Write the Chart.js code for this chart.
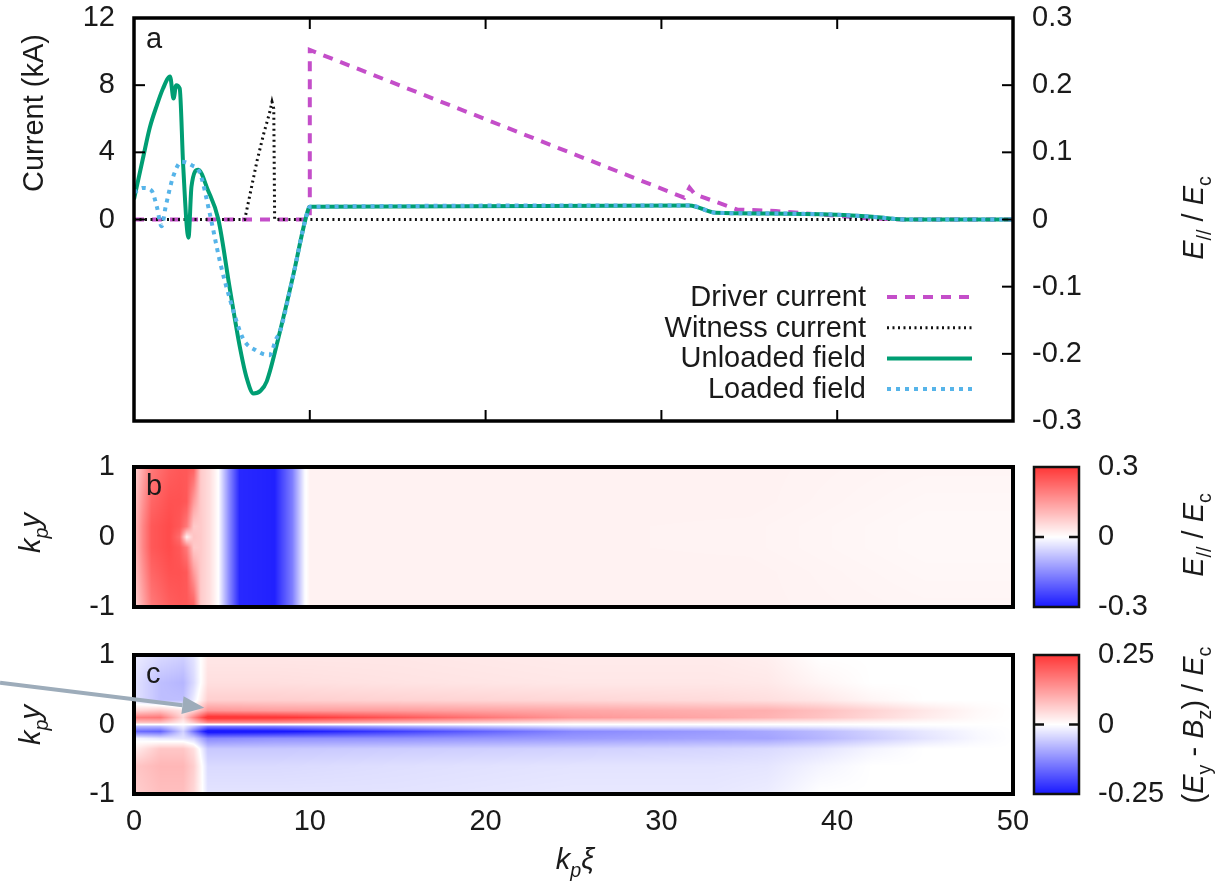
<!DOCTYPE html>
<html>
<head>
<meta charset="utf-8">
<script src="https://cdn.jsdelivr.net/npm/chart.js@4.4.1/dist/chart.umd.min.js"></script>
<style>
  html, body { margin: 0; padding: 0; background: #fff; }
  #wrap { position: relative; width: 1228px; height: 890px; }
  canvas { position: absolute; left: 0; }
</style>
</head>
<body>
<div id="wrap">
  <canvas id="panelA" width="1228" height="440" style="top:0px"></canvas>
  <canvas id="panelB" width="1228" height="200" style="top:440px"></canvas>
  <canvas id="panelC" width="1228" height="250" style="top:640px"></canvas>
</div>
<script>
// ---------- DATA ----------
const xTicks = [0, 10, 20, 30, 40, 50];
const currentTicks = [0, 4, 8, 12];
const fieldTicks = [-0.3, -0.2, -0.1, 0, 0.1, 0.2, 0.3];
const yTicks = [-1, 0, 1];
const cbTicksB = [-0.3, 0, 0.3];
const cbTicksC = [-0.25, 0, 0.25];

const seriesLabels = ["Driver current", "Witness current", "Unloaded field", "Loaded field"];

// beam currents, kA
const driverXi = [0, 10, 10, 31.3, 31.6, 31.9, 34.3, 36.5, 39, 42, 44, 50];
const driverKA = [0, 0, 10.1, 1.3, 1.9, 1.5, 0.6, 0.5, 0.3, 0.05, 0, 0];

const witnessXi = [0, 6.3, 6.6, 7.0, 7.4, 7.7, 7.85, 7.95, 8.0, 50];
const witnessKA = [0, 0, 1.5, 3.5, 5.2, 6.3, 7.0, 6.6, 0, 0];

// on-axis field, E|| / Ec
const unloadedXi = [0, 0.5, 0.9, 1.3, 1.65, 2.05, 2.25, 2.4, 2.6, 2.8, 3.1, 3.27, 3.65, 4.2, 4.8, 5.45, 6.0, 6.4, 6.8, 7.2, 7.55, 8.3, 9.05, 9.8, 10, 31.6, 33.1, 36, 40, 42, 44, 50];
const unloadedE = [0.03, 0.09, 0.137, 0.17, 0.195, 0.213, 0.18, 0.2, 0.195, 0.079, -0.027, 0.049, 0.074, 0.044, 0, -0.103, -0.187, -0.235, -0.259, -0.255, -0.241, -0.167, -0.084, 0.005, 0.019, 0.021, 0.01, 0.009, 0.007, 0.004, 0, 0];

const loadedXi = [0, 0.5, 1.0, 1.3, 1.57, 1.8, 2.23, 2.7, 3.27, 3.75, 4.3, 4.9, 5.45, 6.2, 6.95, 7.7, 8.1, 8.3, 9.05, 9.8, 10, 31.6, 33.1, 36, 40, 42, 44, 50];
const loadedE = [0.04, 0.047, 0.043, 0.019, -0.01, 0.019, 0.064, 0.086, 0.081, 0.069, 0.01, -0.064, -0.118, -0.177, -0.195, -0.202, -0.177, -0.167, -0.084, 0.005, 0.019, 0.021, 0.01, 0.009, 0.007, 0.004, 0, 0];

// panel b map, E|| / Ec (one row per bRows entry)
const bCols = [0, 0.5, 1, 2, 2.6, 3.0, 3.4, 3.8, 4.3, 4.8, 5.4, 6, 8, 9, 9.7, 10, 20, 35, 45, 50];
const bRows = [1, 0.5, 0.15, 0, -0.15, -0.5, -1];
const bField = [
  [0.06, 0.13, 0.2, 0.24, 0.25, 0.25, 0.24, 0.08, 0.05, 0.0, -0.15, -0.28, -0.29, -0.17, -0.01, 0.02, 0.02, 0.02, 0.015, 0.015],
  [0.08, 0.16, 0.23, 0.26, 0.26, 0.25, 0.15, 0.08, 0.05, 0.0, -0.15, -0.28, -0.29, -0.17, -0.01, 0.02, 0.02, 0.02, 0.012, 0.012],
  [0.09, 0.18, 0.25, 0.27, 0.25, 0.2, 0.08, 0.08, 0.05, 0.0, -0.15, -0.28, -0.29, -0.17, -0.01, 0.02, 0.02, 0.018, 0.01, 0.01],
  [0.09, 0.18, 0.25, 0.27, 0.22, 0.02, 0.09, 0.08, 0.05, 0.0, -0.15, -0.28, -0.29, -0.17, -0.01, 0.02, 0.02, 0.018, 0.01, 0.01],
  [0.09, 0.18, 0.25, 0.27, 0.25, 0.2, 0.08, 0.08, 0.05, 0.0, -0.15, -0.28, -0.29, -0.17, -0.01, 0.02, 0.02, 0.018, 0.01, 0.01],
  [0.08, 0.16, 0.23, 0.26, 0.26, 0.25, 0.15, 0.08, 0.05, 0.0, -0.15, -0.28, -0.29, -0.17, -0.01, 0.02, 0.02, 0.02, 0.012, 0.012],
  [0.06, 0.13, 0.2, 0.24, 0.25, 0.25, 0.24, 0.08, 0.05, 0.0, -0.15, -0.28, -0.29, -0.17, -0.01, 0.02, 0.02, 0.02, 0.015, 0.015]
];

// panel c map, (Ey - Bz) / Ec (one row per cRows entry)
const cCols = [0, 1.5, 2.8, 3.4, 4.2, 8, 15, 25, 33, 36, 39, 42, 45, 48, 50];
const cRows = [1, 0.6, 0.35, 0.2, 0.1, 0.03, -0.03, -0.1, -0.2, -0.35, -0.6, -1];
const cField = [
  [-0.02, -0.04, -0.05, -0.03, 0.03, 0.03, 0.03, 0.025, 0.025, 0.02, 0.0, 0.0, 0.0, 0.0, 0.0],
  [-0.03, -0.07, -0.08, -0.04, 0.04, 0.04, 0.035, 0.03, 0.03, 0.028, 0.012, 0.0, 0.0, 0.0, 0.0],
  [-0.03, -0.07, -0.07, -0.02, 0.06, 0.06, 0.055, 0.05, 0.045, 0.04, 0.03, 0.012, 0.0, 0.0, 0.0],
  [0.05, 0.07, 0.03, 0.05, 0.13, 0.12, 0.12, 0.11, 0.1, 0.1, 0.08, 0.055, 0.03, 0.008, 0.0],
  [0.16, 0.17, 0.05, 0.15, 0.27, 0.26, 0.21, 0.13, 0.11, 0.095, 0.075, 0.05, 0.025, 0.006, 0.0],
  [0.08, 0.08, 0.02, 0.07, 0.15, 0.14, 0.09, 0.035, 0.03, 0.025, 0.02, 0.012, 0.006, 0.002, 0.0],
  [-0.08, -0.08, -0.02, -0.07, -0.15, -0.14, -0.09, -0.035, -0.03, -0.025, -0.02, -0.012, -0.006, -0.002, 0.0],
  [-0.16, -0.17, -0.05, -0.15, -0.27, -0.26, -0.21, -0.13, -0.11, -0.095, -0.075, -0.05, -0.025, -0.006, 0.0],
  [-0.01, -0.03, -0.03, -0.05, -0.13, -0.12, -0.12, -0.11, -0.1, -0.1, -0.08, -0.055, -0.03, -0.008, 0.0],
  [0.02, 0.07, 0.07, 0.04, -0.06, -0.06, -0.055, -0.05, -0.045, -0.04, -0.03, -0.012, 0.0, 0.0, 0.0],
  [0.07, 0.09, 0.09, 0.06, -0.04, -0.04, -0.035, -0.03, -0.03, -0.028, -0.012, 0.0, 0.0, 0.0, 0.0],
  [0.06, 0.08, 0.08, 0.05, -0.03, -0.03, -0.03, -0.025, -0.025, -0.02, 0.0, 0.0, 0.0, 0.0, 0.0]
];

// ---------- STYLE ----------
const FAMILY = '"Liberation Sans", Arial, Helvetica, sans-serif';
const FS = 29;
const TEXT = "#1a1a1a";
const RED = [255, 55, 55];
const BLUE = [25, 25, 255];

function fmt(v) {
  if (v === 0) return "0";
  return String(Math.round(v * 100) / 100);
}

function colorFor(t) {
  t = Math.max(-1, Math.min(1, t));
  const end = t > 0 ? RED : BLUE;
  const a = Math.abs(t);
  return [255 + (end[0] - 255) * a, 255 + (end[1] - 255) * a, 255 + (end[2] - 255) * a];
}

// bilinear read of a map at (xv, yv)
function lookup(cols, rows, vals, xv, yv) {
  let i = 0;
  while (i < cols.length - 2 && xv > cols[i + 1]) i++;
  let j = 0;
  while (j < rows.length - 2 && yv < rows[j + 1]) j++;
  const fx = Math.max(0, Math.min(1, (xv - cols[i]) / (cols[i + 1] - cols[i])));
  const fy = Math.max(0, Math.min(1, (rows[j] - yv) / (rows[j] - rows[j + 1])));
  const top = vals[j][i] + (vals[j][i + 1] - vals[j][i]) * fx;
  const bot = vals[j + 1][i] + (vals[j + 1][i + 1] - vals[j + 1][i]) * fx;
  return top + (bot - top) * fy;
}

// text with italic / subscript parts, centred on (x, y) baseline
function richText(ctx, parts, x, y, angle) {
  ctx.save();
  ctx.translate(x, y);
  ctx.rotate(angle);
  let total = 0;
  const fonts = parts.map(p => {
    const size = p.sub ? FS * 0.68 : FS;
    const f = (p.it ? "italic " : "") + size + "px " + FAMILY;
    ctx.font = f;
    const w = ctx.measureText(p.t).width;
    total += w;
    return { f, w };
  });
  let cx = -total / 2;
  ctx.fillStyle = TEXT;
  ctx.textAlign = "left";
  ctx.textBaseline = "alphabetic";
  parts.forEach((p, k) => {
    ctx.font = fonts[k].f;
    ctx.fillText(p.t, cx, p.sub ? FS * 0.27 : 0);
    cx += fonts[k].w;
  });
  ctx.restore();
}

const kpy = [{ t: "k", it: true }, { t: "p", it: true, sub: true }, { t: "y", it: true }];
const eField = [{ t: "E", it: true }, { t: "//", sub: true }, { t: " / " }, { t: "E", it: true }, { t: "c", sub: true }];
const eyBz = [{ t: "(" }, { t: "E", it: true }, { t: "y", sub: true }, { t: " - " }, { t: "B", it: true }, { t: "z", sub: true }, { t: ") / " }, { t: "E", it: true }, { t: "c", sub: true }];
const kpXi = [{ t: "k", it: true }, { t: "p", it: true, sub: true }, { t: "ξ", it: true }];

// ---------- PLUGINS ----------
const framePlugin = {
  id: "frame",
  afterDatasetsDraw(chart, args, o) {
    const { ctx, chartArea: a } = chart;
    ctx.save();
    ctx.strokeStyle = "#000";
    ctx.setLineDash([]);
    (o.inward || []).forEach(t => {
      const s = chart.scales[t.scale];
      ctx.lineWidth = 2;
      t.values.forEach(v => {
        const p = s.getPixelForValue(v);
        ctx.beginPath();
        if (t.edge === "top") { ctx.moveTo(p, a.top); ctx.lineTo(p, a.top + 11); }
        if (t.edge === "bottom") { ctx.moveTo(p, a.bottom); ctx.lineTo(p, a.bottom - 11); }
        if (t.edge === "left") { ctx.moveTo(a.left, p); ctx.lineTo(a.left + 11, p); }
        if (t.edge === "right") { ctx.moveTo(a.right, p); ctx.lineTo(a.right - 11, p); }
        ctx.stroke();
      });
    });
    ctx.lineWidth = o.width;
    ctx.strokeRect(a.left, a.top, a.right - a.left, a.bottom - a.top);
    ctx.font = FS + "px " + FAMILY;
    ctx.fillStyle = TEXT;
    ctx.textAlign = "left";
    ctx.textBaseline = "alphabetic";
    ctx.fillText(o.tag, a.left + 12, a.top + o.tagDy);
    ctx.restore();
  }
};

const legendPlugin = {
  id: "sideLegend",
  afterDraw(chart, args, o) {
    if (!o.show) return;
    const ctx = chart.ctx;
    ctx.save();
    ctx.font = FS + "px " + FAMILY;
    ctx.textAlign = "right";
    ctx.textBaseline = "middle";
    chart.data.datasets.forEach((ds, k) => {
      const yy = o.y + k * o.dy;
      ctx.fillStyle = TEXT;
      ctx.fillText(ds.label, o.textRight, yy + 1);
      ctx.strokeStyle = ds.borderColor;
      ctx.lineWidth = ds.borderWidth;
      ctx.setLineDash(ds.borderDash || []);
      ctx.beginPath();
      ctx.moveTo(o.x0, yy);
      ctx.lineTo(o.x1, yy);
      ctx.stroke();
    });
    ctx.restore();
  }
};

const heatPlugin = {
  id: "heat",
  beforeDatasetsDraw(chart, args, o) {
    if (!o.vals) return;
    const { ctx, chartArea: a, scales } = chart;
    const x = scales.x, y = scales.y;
    const left = Math.round(a.left), top = Math.round(a.top);
    const w = Math.round(a.right) - left, h = Math.round(a.bottom) - top;
    if (w <= 0 || h <= 0) return;
    const img = ctx.createImageData(w, h);
    for (let j = 0; j < h; j++) {
      const yv = y.getValueForPixel(top + j + 0.5);
      for (let i = 0; i < w; i++) {
        const xv = x.getValueForPixel(left + i + 0.5);
        const c = colorFor(lookup(o.cols, o.rows, o.vals, xv, yv) / o.range);
        const k = (j * w + i) * 4;
        img.data[k] = c[0]; img.data[k + 1] = c[1]; img.data[k + 2] = c[2]; img.data[k + 3] = 255;
      }
    }
    ctx.putImageData(img, left, top);

    // colour bar along the cb scale
    const cb = scales.cb;
    const bx0 = o.barX0, bx1 = o.barX1;
    const by0 = Math.round(cb.getPixelForValue(o.range));
    const by1 = Math.round(cb.getPixelForValue(-o.range));
    for (let py = by0; py < by1; py++) {
      const c = colorFor(cb.getValueForPixel(py + 0.5) / o.range);
      ctx.fillStyle = `rgb(${c[0] | 0},${c[1] | 0},${c[2] | 0})`;
      ctx.fillRect(bx0, py, bx1 - bx0, 1);
    }
    ctx.save();
    ctx.strokeStyle = "#111";
    ctx.lineWidth = 2.5;
    ctx.strokeRect(bx0, by0, bx1 - bx0, by1 - by0);
    const z = cb.getPixelForValue(0);
    ctx.beginPath();
    ctx.moveTo(bx0, z); ctx.lineTo(bx0 + 10, z);
    ctx.moveTo(bx1, z); ctx.lineTo(bx1 - 10, z);
    ctx.stroke();
    ctx.restore();
  }
};

const titlesPlugin = {
  id: "titles",
  afterDraw(chart, args, o) {
    const ctx = chart.ctx;
    ctx.save();
    (o.items || []).forEach(it => richText(ctx, it.parts, it.x, it.y, it.angle || 0));
    if (o.arrow) {
      const s = chart.scales;
      const x0 = s.x.getPixelForValue(o.arrow.from[0]), y0 = s.y.getPixelForValue(o.arrow.from[1]);
      const x1 = s.x.getPixelForValue(o.arrow.to[0]), y1 = s.y.getPixelForValue(o.arrow.to[1]);
      const ang = Math.atan2(y1 - y0, x1 - x0);
      const hl = 22, hw = 9;
      const bxp = x1 - hl * Math.cos(ang), byp = y1 - hl * Math.sin(ang);
      ctx.strokeStyle = "#9dacba";
      ctx.fillStyle = "#9dacba";
      ctx.lineWidth = 4;
      ctx.beginPath();
      ctx.moveTo(x0, y0); ctx.lineTo(bxp, byp);
      ctx.stroke();
      ctx.beginPath();
      ctx.moveTo(x1, y1);
      ctx.lineTo(bxp + hw * Math.sin(ang), byp - hw * Math.cos(ang));
      ctx.lineTo(bxp - hw * Math.sin(ang), byp + hw * Math.cos(ang));
      ctx.closePath();
      ctx.fill();
    }
    ctx.restore();
  }
};

// ---------- SCALES ----------
function tickAxis(position, min, max, values, width, pad) {
  return {
    position, min, max, type: "linear",
    afterBuildTicks: s => { s.ticks = values.map(v => ({ value: v })); },
    afterFit: s => { s.width = width; s.paddingTop = 0; s.paddingBottom = 0; },
    grid: { display: false, drawTicks: false },
    border: { display: false },
    ticks: {
      padding: pad,
      color: TEXT,
      font: { family: FAMILY, size: FS },
      callback: v => fmt(v)
    }
  };
}

const pts = (xs, ys) => xs.map((v, i) => ({ x: v, y: ys[i] }));
const gridPts = (cols, rows) => rows.flatMap(r => cols.map(c => ({ x: c, y: r })));

// ---------- PANEL A ----------
new Chart(document.getElementById("panelA"), {
  type: "line",
  data: {
    datasets: [
      { label: seriesLabels[0], data: pts(driverXi, driverKA), yAxisID: "yI", borderColor: "#c44ec9", borderWidth: 4, borderDash: [10, 8], tension: 0, order: 3 },
      { label: seriesLabels[1], data: pts(witnessXi, witnessKA), yAxisID: "yI", borderColor: "#111111", borderWidth: 3, borderDash: [2, 3.5], tension: 0, order: 2 },
      { label: seriesLabels[2], data: pts(unloadedXi, unloadedE), yAxisID: "yE", borderColor: "#009e73", borderWidth: 4, cubicInterpolationMode: "monotone", order: 1 },
      { label: seriesLabels[3], data: pts(loadedXi, loadedE), yAxisID: "yE", borderColor: "#56b4e9", borderWidth: 4, borderDash: [4, 5], cubicInterpolationMode: "monotone", order: 0 }
    ]
  },
  options: {
    responsive: false,
    animation: false,
    layout: { padding: { top: 18, bottom: 19, left: 0, right: 0 } },
    elements: { point: { radius: 0 } },
    scales: {
      x: { type: "linear", min: 0, max: 50, display: false },
      yI: tickAxis("left", -12, 12, currentTicks, 134, 19),
      yE: tickAxis("right", -0.3, 0.3, fieldTicks, 215, 19)
    },
    plugins: {
      legend: { display: false },
      tooltip: { enabled: false },
      frame: {
        width: 3.5, tag: "a", tagDy: 30,
        inward: [
          { scale: "x", edge: "top", values: xTicks.slice(1, -1) },
          { scale: "x", edge: "bottom", values: xTicks.slice(1, -1) },
          { scale: "yI", edge: "left", values: currentTicks },
          { scale: "yE", edge: "right", values: fieldTicks }
        ]
      },
      sideLegend: { show: true, textRight: 866, x0: 887, x1: 972, y: 297, dy: 30.7 },
      titles: {
        items: [
          { parts: [{ t: "Current (kA)" }], x: 43, y: 113, angle: -Math.PI / 2 },
          { parts: eField, x: 1203, y: 218, angle: -Math.PI / 2 }
        ]
      }
    }
  },
  plugins: [framePlugin, legendPlugin, titlesPlugin]
});

// ---------- PANEL B ----------
new Chart(document.getElementById("panelB"), {
  type: "line",
  data: { datasets: [{ data: gridPts(bCols, bRows), showLine: false, pointRadius: 0, yAxisID: "y" }] },
  options: {
    responsive: false,
    animation: false,
    layout: { padding: { top: 27, bottom: 33, left: 0, right: 0 } },
    scales: {
      x: { type: "linear", min: 0, max: 50, display: false },
      y: tickAxis("left", -1, 1, yTicks, 134, 19),
      cb: tickAxis("right", -0.3, 0.3, cbTicksB, 215, 85)
    },
    plugins: {
      legend: { display: false },
      tooltip: { enabled: false },
      heat: { cols: bCols, rows: bRows, vals: bField, range: 0.3, barX0: 1034, barX1: 1079 },
      frame: { width: 4, tag: "b", tagDy: 28 },
      titles: {
        items: [
          { parts: kpy, x: 40, y: 93, angle: -Math.PI / 2 },
          { parts: eField, x: 1203, y: 95, angle: -Math.PI / 2 }
        ]
      }
    }
  },
  plugins: [heatPlugin, framePlugin, titlesPlugin]
});

// ---------- PANEL C ----------
new Chart(document.getElementById("panelC"), {
  type: "line",
  data: { datasets: [{ data: gridPts(cCols, cRows), showLine: false, pointRadius: 0, yAxisID: "y" }] },
  options: {
    responsive: false,
    animation: false,
    layout: { padding: { top: 15, bottom: 0, left: 0, right: 0 } },
    scales: {
      x: {
        type: "linear", position: "bottom", min: 0, max: 50,
        afterBuildTicks: s => { s.ticks = xTicks.map(v => ({ value: v })); },
        afterFit: s => { s.height = 96; s.paddingLeft = 0; s.paddingRight = 0; },
        grid: { display: false, drawTicks: false },
        border: { display: false },
        ticks: { padding: 11, color: TEXT, font: { family: FAMILY, size: FS }, maxRotation: 0 }
      },
      y: tickAxis("left", -1, 1, yTicks, 134, 19),
      cb: tickAxis("right", -0.25, 0.25, cbTicksC, 215, 85)
    },
    plugins: {
      legend: { display: false },
      tooltip: { enabled: false },
      heat: { cols: cCols, rows: cRows, vals: cField, range: 0.25, barX0: 1034, barX1: 1079 },
      frame: { width: 4, tag: "c", tagDy: 28 },
      titles: {
        items: [
          { parts: kpy, x: 40, y: 85, angle: -Math.PI / 2 },
          { parts: eyBz, x: 1203, y: 85, angle: -Math.PI / 2 },
          { parts: kpXi, x: 575, y: 229, angle: 0 }
        ],
        arrow: { from: [-7.62, 0.6], to: [4.0, 0.24] }
      }
    }
  },
  plugins: [heatPlugin, framePlugin, titlesPlugin]
});
</script>
</body>
</html>
